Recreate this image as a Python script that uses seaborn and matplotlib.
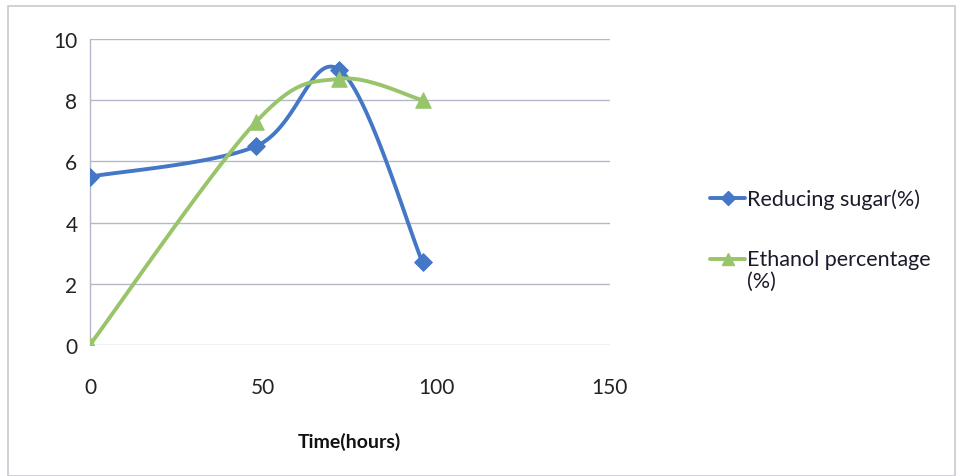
import numpy as np
import pandas as pd
import matplotlib
matplotlib.use("Agg")
import matplotlib.pyplot as plt
import seaborn as sns
from matplotlib.lines import Line2D
from matplotlib.patches import Rectangle
from matplotlib.legend_handler import HandlerLine2D

time_hours = [0, 48, 72, 96]
reducing_sugar = [5.5, 6.5, 9.0, 2.7]
ethanol = [0.0, 7.3, 8.7, 8.0]
series_names = ["Reducing sugar(%)", "Ethanol percentage\n(%)"]
x_ticks = [0, 50, 100, 150]
y_ticks = [0, 2, 4, 6, 8, 10]

sns.set_theme(style="white")
plt.rcParams['font.family'] = ['Lato', 'DejaVu Sans']

BLUE = "#4477C6"
GREEN = "#98C46A"


def smooth(xs, ys, n=40):
    """Excel-like smoothed line (Catmull-Rom Bezier) through the data points."""
    P = np.column_stack([xs, ys]).astype(float)
    m = len(P)
    out = []
    for i in range(m - 1):
        p0 = P[i - 1] if i > 0 else P[i]
        p1, p2 = P[i], P[i + 1]
        p3 = P[i + 2] if i + 2 < m else P[i + 1]
        c1 = p1 + (p2 - p0) / 6.0
        c2 = p2 - (p3 - p1) / 6.0
        t = np.linspace(0, 1, n)[:, None]
        seg = ((1 - t) ** 3) * p1 + 3 * ((1 - t) ** 2) * t * c1 + 3 * (1 - t) * t ** 2 * c2 + t ** 3 * p2
        out.append(seg if i == 0 else seg[1:])
    s = np.vstack(out)
    return s[:, 0], s[:, 1]


class HandlerShift(HandlerLine2D):
    def __init__(self, dy=0, **kw):
        super().__init__(**kw)
        self.dy = dy

    def create_artists(self, legend, orig_handle, xdescent, ydescent, width, height, fontsize, trans):
        arts = super().create_artists(legend, orig_handle, xdescent, ydescent, width, height, fontsize, trans)
        for a in arts:
            a.set_ydata(np.asarray(a.get_ydata()) + self.dy)
        return arts


fig = plt.figure(figsize=(9.57, 4.77), dpi=100)
ax = fig.add_axes([0.094, 0.275, 0.543, 0.641])

for vals, col, mk, ms in [(reducing_sugar, BLUE, "D", 9), (ethanol, GREEN, "^", 11)]:
    sx, sy = smooth(time_hours, vals)
    df = pd.DataFrame({"x": sx, "y": sy, "i": np.arange(len(sx))})
    sns.lineplot(data=df, x="x", y="y", sort=False, color=col, lw=2.8, ax=ax, estimator=None)
    pts = pd.DataFrame({"x": time_hours, "y": vals})
    sns.scatterplot(data=pts, x="x", y="y", marker=mk, s=ms ** 2, color=col, edgecolor=col, ax=ax, zorder=5)

ax.set_xlim(0, 150)
ax.set_ylim(0, 10)
ax.set_xticks(x_ticks)
ax.set_yticks(y_ticks)
ax.grid(axis="y", color="#B4B8C8", lw=1.0)
ax.set_axisbelow(True)
for side in ["top", "right", "bottom"]:
    ax.spines[side].set_visible(False)
ax.spines["left"].set_color("#B4B8C8")
ax.spines["left"].set_linewidth(1.0)
ax.tick_params(axis="both", length=0, labelsize=15, colors="#222222")
ax.tick_params(axis="x", pad=23)
ax.tick_params(axis="y", pad=9)
ax.set_xlabel("Time(hours)", fontsize=14, fontweight="bold", labelpad=25, color="#111111")
ax.set_ylabel("")

blue_h = Line2D([0], [0], color=BLUE, lw=2.8, marker="D", ms=7)
green_h = Line2D([0], [0], color=GREEN, lw=2.8, marker="^", ms=9)
leg = fig.legend([blue_h, green_h], series_names, loc="upper left", bbox_to_anchor=(0.731, 0.625),
                 frameon=False, fontsize=15.5, handlelength=1.6, handletextpad=0.1,
                 labelspacing=1.85, borderpad=0, labelcolor="#1a1a2a",
                 handler_map={green_h: HandlerShift(dy=8)})
for t in leg.get_texts():
    t.set_linespacing(1.1)

fig.patches.append(Rectangle((0.008, 0.0), 0.99, 0.985, transform=fig.transFigure,
                             fill=False, edgecolor="#C8CAD0", lw=1.2))

fig.savefig("out.png", dpi=100, facecolor="white")
